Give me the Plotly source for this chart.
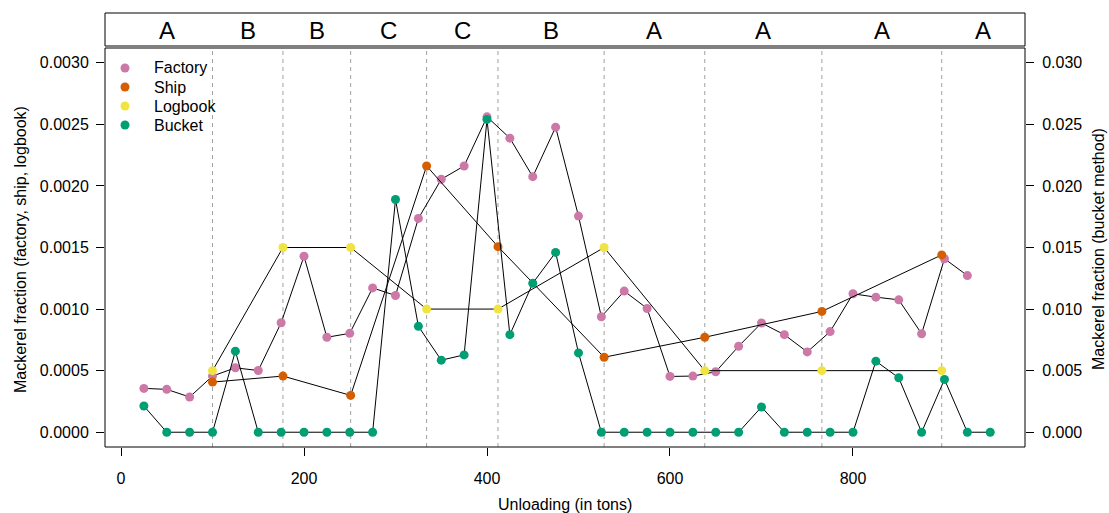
import plotly.graph_objects as go

# ---------------- data ----------------
factory_x = [25, 50, 75, 100, 125, 150, 175, 200, 225, 250, 275, 300, 325, 350, 375,
             400, 425, 450, 475, 500, 525, 550, 575, 600, 625, 650, 675, 700, 725, 750,
             775, 800, 825, 850, 875, 900, 925]
factory_y = [0.000356, 0.000348, 0.000286, 0.000456, 0.000523, 0.000501, 0.000889, 0.001429,
             0.000771, 0.000803, 0.001172, 0.001110, 0.001736, 0.002054, 0.002162, 0.002561,
             0.002388, 0.002075, 0.002477, 0.001755, 0.000938, 0.001146, 0.001005, 0.000453,
             0.000456, 0.000491, 0.000698, 0.000887, 0.000792, 0.000652, 0.000817, 0.001124,
             0.001097, 0.001075, 0.000800, 0.001409, 0.001272]

bucket_x = [25, 50, 75, 100, 125, 150, 175, 200, 225, 250, 275, 300, 325, 350, 375,
            400, 425, 450, 475, 500, 525, 550, 575, 600, 625, 650, 675, 700, 725, 750,
            775, 800, 825, 850, 875, 900, 925, 950]
bucket_y = [0.00213, 0, 0, 0, 0.00658, 0, 0, 0, 0, 0, 0, 0.0189, 0.0086, 0.00585, 0.00628,
            0.0254, 0.00792, 0.0121, 0.0146, 0.00644, 0, 0, 0, 0, 0, 0, 0, 0.00205, 0, 0,
            0, 0, 0.00577, 0.00442, 0, 0.00429, 0, 0]

ref_x = [100, 177, 251, 334, 412, 528, 638, 766, 897]
ship_y = [0.000407, 0.000456, 0.000299, 0.002162, 0.001507, 0.000609, 0.000771, 0.000981, 0.00144]
logbook_y = [0.0005, 0.0015, 0.0015, 0.0010, 0.0010, 0.0015, 0.0005, 0.0005, 0.0005]

strip_labels = ["A", "B", "B", "C", "C", "B", "A", "A", "A", "A"]

x_ticks = [0, 200, 400, 600, 800]
left_ticks = [0, 0.0005, 0.0010, 0.0015, 0.0020, 0.0025, 0.0030]
right_ticks = [0, 0.005, 0.010, 0.015, 0.020, 0.025, 0.030]

series_names = ["Factory", "Ship", "Logbook", "Bucket"]
series_colors = ["#CC79A7", "#D55E00", "#F0E442", "#009E73"]

# ---------------- layout constants ----------------
W, H = 1109, 513
ML, MR, MT, MB = 105, 84, 13, 66
plot_w = W - ML - MR
plot_h = H - MT - MB
BOTTOM = H - MB  # pixel row of plot bottom


def py(pix):
    """pixel row -> paper y"""
    return (BOTTOM - pix) / plot_h


def px(pix):
    """pixel column -> paper x"""
    return (pix - ML) / plot_w


dom_top = py(48)
strip_y0 = py(46)
FONT = "Liberation Sans, Arial, sans-serif"
x_range = [-17.5, 988]

fig = go.Figure()

# reference dashed lines
for xv in ref_x:
    fig.add_shape(type="line", xref="x", yref="paper", x0=xv, x1=xv, y0=0, y1=dom_top,
                  line=dict(color="#a0a0a0", width=1, dash="4px,4px"), layer="below")

series = [
    (factory_x, factory_y, "y"),
    (ref_x, ship_y, "y"),
    (ref_x, logbook_y, "y"),
    (bucket_x, bucket_y, "y2"),
]
for (xs, ys, ax), name, col in zip(series, series_names, series_colors):
    fig.add_trace(go.Scatter(x=xs, y=ys, yaxis=ax, mode="lines+markers", name=name,
                             showlegend=False,
                             line=dict(color="black", width=1),
                             marker=dict(color=col, size=9)))

# manual legend (R-style, no box)
for i, (name, col) in enumerate(zip(series_names, series_colors)):
    yrow = py(68 + 19 * i)
    fig.add_shape(type="circle", xref="paper", yref="paper",
                  xsizemode="pixel", ysizemode="pixel",
                  xanchor=px(125), yanchor=yrow, x0=-4.5, x1=4.5, y0=-4.5, y1=4.5,
                  fillcolor=col, line=dict(width=0))
    fig.add_annotation(x=px(152), xref="paper", y=yrow, yref="paper", text=name,
                       showarrow=False, xanchor="left", yanchor="middle",
                       font=dict(size=16, color="black", family=FONT))

# plot box
fig.add_shape(type="rect", xref="paper", yref="paper", x0=0, x1=1, y0=0, y1=dom_top,
              line=dict(color="black", width=1))
# strip box
fig.add_shape(type="rect", xref="paper", yref="paper", x0=0, x1=1, y0=strip_y0, y1=1,
              line=dict(color="black", width=1))

breaks = [0] + ref_x + [x_range[1]]
for i, lab in enumerate(strip_labels):
    cx = (breaks[i] + breaks[i + 1]) / 2
    fig.add_annotation(x=cx, xref="x", y=py(30), yref="paper", text=lab,
                       showarrow=False, font=dict(size=24, color="black", family=FONT),
                       xanchor="center", yanchor="middle")

# axis titles
fig.add_annotation(x=px(20), xref="paper", y=py(250), yref="paper",
                   text="Mackerel fraction (factory, ship, logbook)", textangle=-90,
                   xanchor="center", yanchor="middle",
                   showarrow=False, font=dict(size=16, color="black", family=FONT))
fig.add_annotation(x=px(1098), xref="paper", y=py(249), yref="paper",
                   text="Mackerel fraction (bucket method)", textangle=-90,
                   xanchor="center", yanchor="middle",
                   showarrow=False, font=dict(size=16, color="black", family=FONT))
fig.add_annotation(x=0.5, xref="paper", y=py(504), yref="paper",
                   text="Unloading (in tons)", showarrow=False,
                   xanchor="center", yanchor="middle",
                   font=dict(size=16, color="black", family=FONT))

axis_common = dict(showgrid=False, zeroline=False, ticks="outside", ticklen=8,
                   tickcolor="black", tickwidth=1, showline=False,
                   tickfont=dict(size=16, color="black", family=FONT))

fig.update_layout(
    width=W, height=H,
    margin=dict(l=ML, r=MR, t=MT, b=MB),
    paper_bgcolor="white", plot_bgcolor="white",
    font=dict(family=FONT, color="black"),
    xaxis=dict(range=x_range, tickvals=x_ticks, ticktext=[str(v) for v in x_ticks],
               ticklabelstandoff=9, **axis_common),
    yaxis=dict(range=[-0.00012, 0.00312], domain=[0, dom_top], tickvals=left_ticks,
               ticktext=[f"{v:.4f}" for v in left_ticks], ticklabelstandoff=4,
               **axis_common),
    yaxis2=dict(range=[-0.0012, 0.0312], overlaying="y", side="right", tickvals=right_ticks,
                ticktext=[f"{v:.3f}" for v in right_ticks], ticklabelstandoff=5,
                **axis_common),
    showlegend=False,
)

fig.write_html("out.html")
